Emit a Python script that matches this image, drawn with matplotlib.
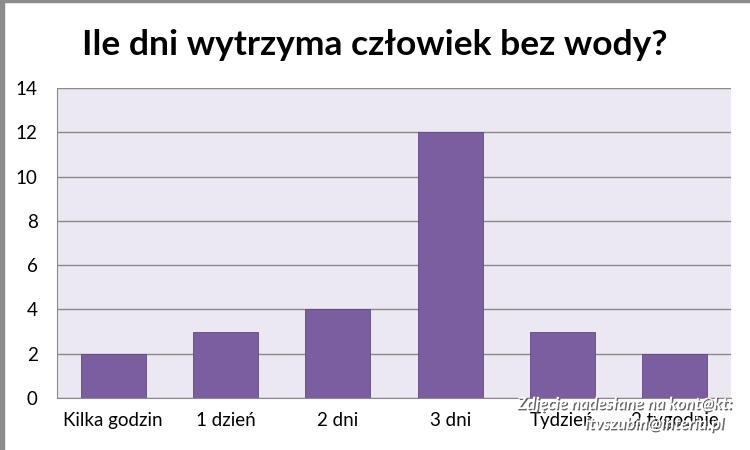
import matplotlib.pyplot as plt
import matplotlib.patheffects as pe
from matplotlib.patches import Rectangle

categories = ["Kilka godzin", "1 dzień", "2 dni", "3 dni", "Tydzień", "2 tygodnie"]
counts = [2, 3, 4, 12, 3, 2]
y_ticks = [0, 2, 4, 6, 8, 10, 12, 14]

plt.rcParams['font.family'] = ['Lato', 'DejaVu Sans']

fig = plt.figure(figsize=(7.5, 4.5), dpi=100)
ax = fig.add_axes([57 / 750, 1 - 398 / 450, 674 / 750, 310 / 450])

ax.set_facecolor("#EBE8F1")
ax.bar(range(len(categories)), counts, width=0.58, color="#7B5EA0",
       edgecolor="#5E4A80", linewidth=0.6, zorder=3)
ax.set_xlim(-0.5, len(categories) - 0.5)
ax.set_ylim(0, 14)
ax.set_yticks(y_ticks)
ax.yaxis.grid(True, color="#8A8A8A", linewidth=1.0, zorder=1)
ax.set_xticks(range(len(categories)))
ax.set_xticklabels(categories, fontsize=13.5)
ax.tick_params(axis="y", labelsize=13.5, length=0, pad=14)
ax.tick_params(axis="x", length=0, pad=10)
for side in ["top", "right"]:
    ax.spines[side].set_visible(False)
for side in ["left", "bottom"]:
    ax.spines[side].set_color("#8A8A8A")

fig.text(0.5, 1 - 45 / 450, "Ile dni wytrzyma człowiek bez wody?",
         ha="center", va="center", fontsize=25.5, fontweight="bold")

# frame strips of the original screenshot
fig.patches.append(Rectangle((0, 0), 4 / 750, 1, transform=fig.transFigure,
                             color="#8C8C8C", zorder=10))
fig.patches.append(Rectangle((0, 1 - 2 / 450), 1, 2 / 450, transform=fig.transFigure,
                             color="#8C8C8C", zorder=10))

# watermark
wm = dict(color="white", fontsize=12, fontstyle="italic", fontweight="bold",
          ha="right", va="center", zorder=20,
          path_effects=[pe.withSimplePatchShadow(offset=(1, -1), shadow_rgbFace="#555555", alpha=0.9)])
fig.text(732 / 750, 1 - 404 / 450, "Zdjęcie nadesłane na kont@kt:", **wm)
fig.text(724 / 750, 1 - 424 / 450, "itvszubin@interia.pl", **wm)

fig.savefig("out.png", dpi=100)
